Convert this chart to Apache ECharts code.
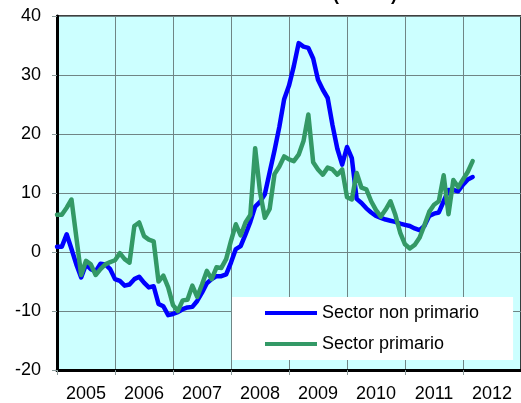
<!DOCTYPE html>
<html>
<head>
<meta charset="utf-8">
<script src="https://cdn.jsdelivr.net/npm/echarts@6/dist/echarts.min.js"></script>
<style>
  html, body { margin: 0; padding: 0; background: #ffffff; }
  #chart { width: 521px; height: 403px; }
</style>
</head>
<body>
<div id="chart"></div>
<script>
// Year labels along the bottom axis (one band of 12 months each)
const years = ['2005', '2006', '2007', '2008', '2009', '2010', '2011', '2012'];

// Monthly values from January 2005 onwards
const nonPrimario = [
  0.9, 0.9, 3.0, 0.5, -2.1, -4.3, -2.1, -2.9, -3.3, -2.0, -2.1, -2.9,
  -4.6, -4.9, -5.7, -5.5, -4.6, -4.2, -5.2, -6.0, -5.8, -8.8, -9.2, -10.7,
  -10.5, -10.2, -9.7, -9.4, -9.3, -8.3, -6.9, -5.3, -4.6, -4.1, -4.1, -3.8,
  -1.8, 0.5, 1.0, 3.0, 5.1, 7.7, 8.5, 9.8, 13.5, 17.2, 21.2, 25.9,
  28.2, 31.5, 35.4, 34.8, 34.6, 32.8, 29.2, 27.5, 26.1, 21.5, 17.5, 14.8,
  17.8, 15.9, 9.0, 8.3, 7.4, 6.7, 6.1, 5.8, 5.5, 5.3, 5.1, 4.8,
  4.6, 4.4, 4.0, 3.7, 4.4, 6.1, 6.5, 6.7, 8.6, 10.5, 10.5, 10.3,
  11.4, 12.3, 12.7
];

const primario = [
  6.3, 6.3, 7.5, 8.9, 2.5, -3.9, -1.5, -2.1, -3.9, -2.9, -2.1, -1.7,
  -1.4, -0.2, -1.2, -1.8, 4.4, 5.0, 2.7, 2.1, 1.8, -5.0, -4.0, -6.0,
  -9.0, -10.0, -8.2, -8.1, -5.7, -7.6, -5.5, -3.2, -4.6, -2.6, -2.7, -1.2,
  1.9, 4.7, 2.8, 5.0, 6.3, 17.6, 10.2, 5.8, 7.3, 13.2, 14.5, 16.2,
  15.7, 15.4, 16.5, 18.8, 23.3, 15.2, 14.0, 13.1, 14.3, 14.0, 13.1, 14.0,
  9.3, 8.9, 13.4, 10.9, 10.6, 8.6, 7.1, 6.0, 7.2, 8.6, 6.3, 3.3,
  1.3, 0.6, 1.2, 2.4, 4.5, 6.8, 8.0, 8.6, 13.0, 6.4, 12.2, 11.0,
  12.3, 13.6, 15.4
];

const seriesNames = ['Sector non primario', 'Sector primario'];
const titleText = 'Crecimiento real (var. %)';

// Pair each monthly value with its month index on the hidden value axis
const toPoints = arr => arr.map((v, i) => [i, v]);

const FONT = '"Liberation Sans", Arial, sans-serif';
const chart = echarts.init(document.getElementById('chart'), null, { renderer: 'canvas' });

chart.setOption({
  animation: false,
  backgroundColor: '#ffffff',
  textStyle: { fontFamily: FONT },
  graphic: [{
    type: 'text',
    left: 312 - 125,
    top: -14,
    z: 100,
    style: {
      text: titleText,
      font: 'bold 18px ' + FONT,
      fill: '#000000'
    }
  }],
  grid: {
    left: 57,
    top: 16,
    right: -6,
    bottom: 32,
    show: true,
    backgroundColor: '#CCFFFF',
    borderColor: '#000000',
    borderWidth: 1.5
  },
  legend: {
    data: seriesNames,
    orient: 'vertical',
    left: 232,
    top: 297,
    padding: [6, 34, 6, 33],
    itemGap: 11,
    itemWidth: 52,
    itemHeight: 4,
    icon: 'rect',
    backgroundColor: '#ffffff',
    textStyle: { fontSize: 18, color: '#000000', fontFamily: FONT, lineHeight: 20 }
  },
  xAxis: [{
    type: 'category',
    data: years,
    boundaryGap: true,
    axisLine: { show: true, onZero: false, lineStyle: { color: '#000000', width: 3 } },
    axisTick: { show: true, length: 5, lineStyle: { color: '#8a9a9a' } },
    axisLabel: { fontSize: 18, color: '#000000', margin: 15, fontFamily: FONT },
    splitLine: { show: true, lineStyle: { color: '#6f8585', width: 1 } }
  }, {
    type: 'value',
    min: 0,
    max: 96,
    show: false
  }],
  yAxis: {
    type: 'value',
    min: -20,
    max: 40,
    interval: 10,
    axisLine: { show: true, onZero: false, lineStyle: { color: '#000000', width: 3 } },
    axisTick: { show: true, length: 5, lineStyle: { color: '#8a9a9a' } },
    axisLabel: { fontSize: 18, color: '#000000', margin: 16, fontFamily: FONT },
    splitLine: { show: true, lineStyle: { color: '#6f8585', width: 1 } }
  },
  series: [{
    name: seriesNames[0],
    type: 'line',
    xAxisIndex: 1,
    data: toPoints(nonPrimario),
    showSymbol: false,
    symbol: 'none',
    lineStyle: { color: '#0000FF', width: 4.5, join: 'round', cap: 'round' },
    itemStyle: { color: '#0000FF' },
    z: 3
  }, {
    name: seriesNames[1],
    type: 'line',
    xAxisIndex: 1,
    data: toPoints(primario),
    showSymbol: false,
    symbol: 'none',
    lineStyle: { color: '#339966', width: 4.5, join: 'round', cap: 'round' },
    itemStyle: { color: '#339966' },
    z: 4
  }]
});
</script>
</body>
</html>
